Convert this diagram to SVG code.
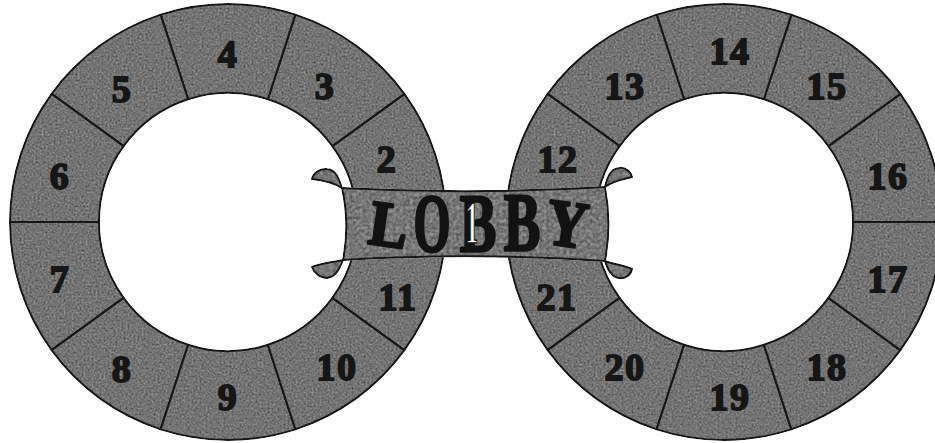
<svg xmlns="http://www.w3.org/2000/svg" width="935" height="443" viewBox="0 0 935 443">
<defs>
<filter id="tex" x="-0.02" y="-0.02" width="1.04" height="1.04" color-interpolation-filters="sRGB">
<feTurbulence type="fractalNoise" baseFrequency="0.5" numOctaves="3" seed="7" result="n"/>
<feColorMatrix in="n" type="matrix" values="0.5 0.5 0 0 0.3  0.5 0.5 0 0 0.3  0.5 0.5 0 0 0.3  0 0 0 0 1" result="g"/>
<feBlend in="SourceGraphic" in2="g" mode="multiply" result="b"/>
<feComposite in="b" in2="SourceAlpha" operator="in"/>
</filter>
<filter id="tex2" x="-0.05" y="-0.05" width="1.1" height="1.1" color-interpolation-filters="sRGB">
<feTurbulence type="fractalNoise" baseFrequency="0.3" numOctaves="3" seed="11" result="n"/>
<feColorMatrix in="n" type="matrix" values="0.5 0.5 0 0 0.3  0.5 0.5 0 0 0.3  0.5 0.5 0 0 0.3  0 0 0 0 1" result="g"/>
<feBlend in="SourceGraphic" in2="g" mode="multiply" result="b"/>
<feComposite in="b" in2="SourceAlpha" operator="in"/>
</filter>
</defs>
<style>
.seg{fill:#909090;stroke:#1c1c1c;stroke-width:2;stroke-linejoin:round}
.num{font-family:"Liberation Serif","Times New Roman",serif;font-weight:bold;font-size:38px;fill:#161616;stroke:#161616;stroke-width:1.8;text-anchor:middle;letter-spacing:1.5px}
.ban{fill:#949494;stroke:#1c1c1c;stroke-width:2;stroke-linejoin:round}
.big{font-family:"Liberation Serif","Times New Roman",serif;font-weight:bold;fill:#121212;stroke:#121212;stroke-width:2.8;stroke-linejoin:round;text-anchor:middle}
</style>
<rect width="935" height="443" fill="#ffffff"/>
<g id="left-ring" filter="url(#tex)">
<g id="room-2"><path class="seg" d="M446,222 A218,218 0 0 0 404.37,93.86 L332.36,146.18 A129,129 0 0 1 357,222 Z"/></g>
<g id="room-3"><path class="seg" d="M404.37,93.86 A218,218 0 0 0 295.37,14.67 L267.86,99.31 A129,129 0 0 1 332.36,146.18 Z"/></g>
<g id="room-4"><path class="seg" d="M295.37,14.67 A218,218 0 0 0 160.63,14.67 L188.14,99.31 A129,129 0 0 1 267.86,99.31 Z"/></g>
<g id="room-5"><path class="seg" d="M160.63,14.67 A218,218 0 0 0 51.63,93.86 L123.64,146.18 A129,129 0 0 1 188.14,99.31 Z"/></g>
<g id="room-6"><path class="seg" d="M51.63,93.86 A218,218 0 0 0 10,222 L99,222 A129,129 0 0 1 123.64,146.18 Z"/></g>
<g id="room-7"><path class="seg" d="M10,222 A218,218 0 0 0 51.63,350.14 L123.64,297.82 A129,129 0 0 1 99,222 Z"/></g>
<g id="room-8"><path class="seg" d="M51.63,350.14 A218,218 0 0 0 160.63,429.33 L188.14,344.69 A129,129 0 0 1 123.64,297.82 Z"/></g>
<g id="room-9"><path class="seg" d="M160.63,429.33 A218,218 0 0 0 295.37,429.33 L267.86,344.69 A129,129 0 0 1 188.14,344.69 Z"/></g>
<g id="room-10"><path class="seg" d="M295.37,429.33 A218,218 0 0 0 404.37,350.14 L332.36,297.82 A129,129 0 0 1 267.86,344.69 Z"/></g>
<g id="room-11"><path class="seg" d="M404.37,350.14 A218,218 0 0 0 446,222 L357,222 A129,129 0 0 1 332.36,297.82 Z"/></g>
</g>
<g id="right-ring" filter="url(#tex)">
<g id="room-16"><path class="seg" d="M942,222 A218,218 0 0 0 900.37,93.86 L828.36,146.18 A129,129 0 0 1 853,222 Z"/></g>
<g id="room-15"><path class="seg" d="M900.37,93.86 A218,218 0 0 0 791.37,14.67 L763.86,99.31 A129,129 0 0 1 828.36,146.18 Z"/></g>
<g id="room-14"><path class="seg" d="M791.37,14.67 A218,218 0 0 0 656.63,14.67 L684.14,99.31 A129,129 0 0 1 763.86,99.31 Z"/></g>
<g id="room-13"><path class="seg" d="M656.63,14.67 A218,218 0 0 0 547.63,93.86 L619.64,146.18 A129,129 0 0 1 684.14,99.31 Z"/></g>
<g id="room-12"><path class="seg" d="M547.63,93.86 A218,218 0 0 0 506,222 L595,222 A129,129 0 0 1 619.64,146.18 Z"/></g>
<g id="room-21"><path class="seg" d="M506,222 A218,218 0 0 0 547.63,350.14 L619.64,297.82 A129,129 0 0 1 595,222 Z"/></g>
<g id="room-20"><path class="seg" d="M547.63,350.14 A218,218 0 0 0 656.63,429.33 L684.14,344.69 A129,129 0 0 1 619.64,297.82 Z"/></g>
<g id="room-19"><path class="seg" d="M656.63,429.33 A218,218 0 0 0 791.37,429.33 L763.86,344.69 A129,129 0 0 1 684.14,344.69 Z"/></g>
<g id="room-18"><path class="seg" d="M791.37,429.33 A218,218 0 0 0 900.37,350.14 L828.36,297.82 A129,129 0 0 1 763.86,344.69 Z"/></g>
<g id="room-17"><path class="seg" d="M900.37,350.14 A218,218 0 0 0 942,222 L853,222 A129,129 0 0 1 828.36,297.82 Z"/></g>
</g>
<g id="labels">
<text class="num" x="387" y="172">2</text>
<text class="num" x="325" y="99">3</text>
<text class="num" x="228" y="67">4</text>
<text class="num" x="122" y="102">5</text>
<text class="num" x="60" y="189">6</text>
<text class="num" x="60" y="292">7</text>
<text class="num" x="122" y="382">8</text>
<text class="num" x="228" y="410">9</text>
<text class="num" x="337" y="380">10</text>
<text class="num" x="398" y="310">11</text>
<text class="num" x="558" y="172">12</text>
<text class="num" x="625" y="99">13</text>
<text class="num" x="730" y="64">14</text>
<text class="num" x="827" y="99">15</text>
<text class="num" x="888" y="189">16</text>
<text class="num" x="888" y="292">17</text>
<text class="num" x="827" y="380">18</text>
<text class="num" x="730" y="410">19</text>
<text class="num" x="625" y="380">20</text>
<text class="num" x="557" y="310">21</text>
</g>
<g id="connectors"></g>
<g id="lobby">
<g filter="url(#tex2)">
<path class="ban" d="M342,188 C339,180 337,170 327,169 C319,168 313,174 312,179 C320,180 333,182 342,188 Z"/>
<path class="ban" d="M343,260 C334,262 320,263 312,267 C314,273 320,278 327,278 C336,277 340,268 343,260 Z"/>
<path class="ban" d="M605,187 C607,178 610,169 619,168 C626,167 631,172 632,177 C624,179 612,181 605,187 Z"/>
<path class="ban" d="M605,261 C612,264 624,265 632,269 C631,275 625,279 619,278 C611,277 607,268 605,261 Z"/>
<path class="ban" d="M342,188 Q473,195 605,187 Q612,224 605,261 Q474,252 343,260 Q350,224 342,188 Z"/>
</g>
<text class="big" font-size="64" transform="translate(389,225) rotate(8) scale(0.9,1)" x="0" y="21">L</text>
<text class="big" font-size="82" transform="translate(432,223) scale(0.58,1)" x="0" y="28">O</text>
<text class="big" font-size="83" transform="translate(478,224) scale(0.66,1)" x="0" y="27">B</text>
<text class="big" font-size="83" transform="translate(522,223) scale(0.66,1)" x="0" y="27">B</text>
<text class="big" font-size="66" transform="translate(567,224) rotate(8) scale(0.86,1)" x="0" y="22">Y</text>
<text font-family="Liberation Serif, serif" font-weight="bold" font-size="62" fill="#ffffff" stroke="#121212" stroke-width="1.5" text-anchor="middle" transform="translate(472,243) scale(0.4,1)" x="0" y="0">1</text>
</g>
</svg>
